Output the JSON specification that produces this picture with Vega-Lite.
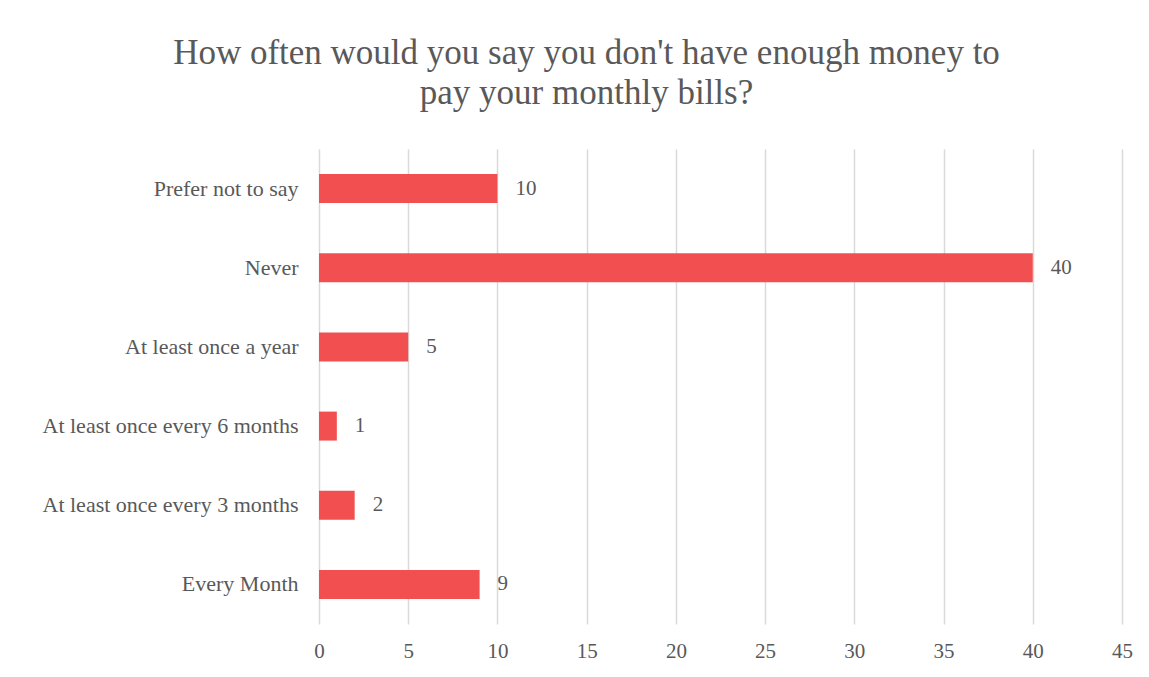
{
  "$schema": "https://vega.github.io/schema/vega-lite/v6.json",
  "autosize": {"type": "none"},
  "width": 803,
  "height": 475,
  "padding": {"left": 319, "top": 149, "right": 27, "bottom": 53},
  "background": "white",
  "config": {
    "font": "Liberation Serif",
    "view": {"stroke": null}
  },
  "title": {
    "text": ["How often would you say you don't have enough money to", "pay your monthly bills?"],
    "fontSize": 35,
    "fontWeight": "normal",
    "color": "#595959",
    "font": "Liberation Serif",
    "lineHeight": 40,
    "anchor": "middle",
    "dx": -134,
    "offset": 38
  },
  "data": {
    "values": [
      {"category": "Prefer not to say", "count": 10},
      {"category": "Never", "count": 40},
      {"category": "At least once a year", "count": 5},
      {"category": "At least once every 6 months", "count": 1},
      {"category": "At least once every 3 months", "count": 2},
      {"category": "Every Month", "count": 9}
    ]
  },
  "encoding": {
    "y": {
      "field": "category",
      "type": "nominal",
      "sort": null,
      "title": null,
      "scale": {"paddingInner": 0.634, "paddingOuter": 0.317},
      "axis": {
        "domain": false,
        "ticks": false,
        "grid": false,
        "labelFontSize": 22,
        "labelColor": "#595959",
        "labelPadding": 21,
        "labelFont": "Liberation Serif",
        "labelLimit": 400
      }
    },
    "x": {
      "field": "count",
      "type": "quantitative",
      "title": null,
      "scale": {"domain": [0, 45], "nice": false},
      "axis": {
        "values": [0, 5, 10, 15, 20, 25, 30, 35, 40, 45],
        "domain": false,
        "ticks": false,
        "grid": true,
        "gridColor": "#d9d9d9",
        "gridWidth": 1.5,
        "labelFontSize": 21,
        "labelColor": "#595959",
        "labelPadding": 16,
        "labelFlush": false,
        "labelFont": "Liberation Serif"
      }
    }
  },
  "layer": [
    {"mark": {"type": "bar", "color": "#F25050"}},
    {
      "mark": {"type": "text", "align": "left", "baseline": "middle", "dx": 18, "fontSize": 21, "color": "#595959", "font": "Liberation Serif"},
      "encoding": {"text": {"field": "count", "type": "quantitative"}}
    }
  ]
}
